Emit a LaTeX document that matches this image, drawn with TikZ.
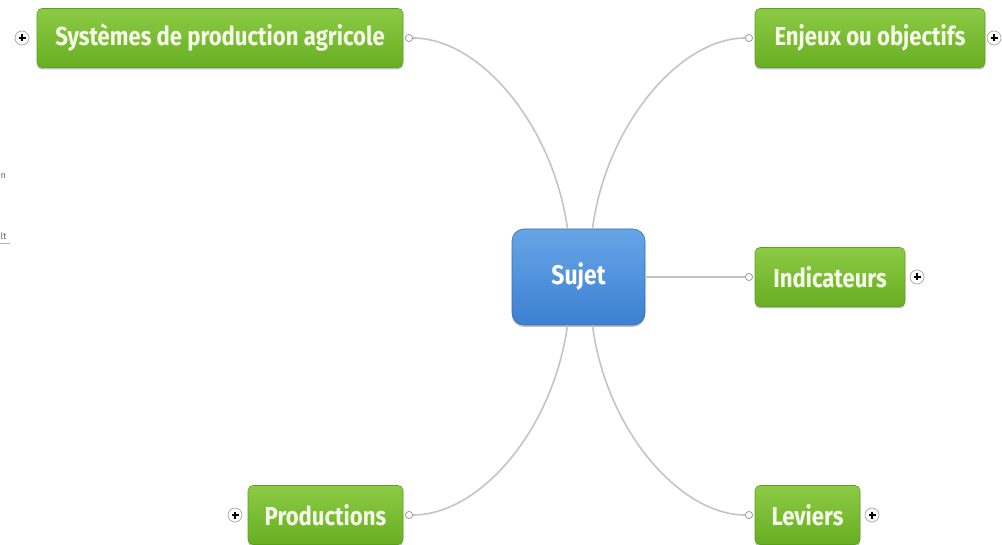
\documentclass[tikz,border=0pt]{standalone}
\usepackage{fontspec}
\setmainfont{Fira Sans}
\newfontfamily\boxfont[FakeStretch=0.85]{Fira Sans}
\usetikzlibrary{shadows,calc}
\definecolor{gtop}{HTML}{8CCB45}
\definecolor{gbot}{HTML}{68AE22}
\definecolor{gedge}{HTML}{5E9E22}
\definecolor{btop}{HTML}{66A6E6}
\definecolor{bbot}{HTML}{3D7FD2}
\definecolor{bedge}{HTML}{3A6DB0}
\definecolor{linkc}{HTML}{C4C4C4}
\definecolor{txtc}{HTML}{F6FCEA}
\begin{document}
\begin{tikzpicture}[x=1pt,y=-1pt,
  topic/.style={rounded corners=5pt, draw=gedge, line width=0.6pt, top color=gtop, bottom color=gbot,
    minimum height=59pt, inner xsep=2pt, text=txtc,
    font=\boxfont\bfseries\fontsize{26}{26}\selectfont,
    drop shadow={shadow xshift=0pt, shadow yshift=-2pt, opacity=0.25, fill=black}},
  central/.style={rounded corners=12pt, draw=bedge, line width=0.6pt, top color=btop, bottom color=bbot,
    minimum width=133pt, minimum height=96pt, text=white,
    font=\boxfont\bfseries\fontsize{27}{27}\selectfont,
    drop shadow={shadow xshift=0pt, shadow yshift=-2pt, opacity=0.25, fill=black}},
  link/.style={draw=linkc, line width=1.6pt},
  knob/.style={circle, draw=linkc!80!black, line width=0.7pt, fill=white, minimum size=7pt, inner sep=0pt},
  plusbtn/.style={circle, draw=gray!70, line width=0.7pt, fill=white, minimum size=14pt, inner sep=0pt,
    path picture={\draw[black, line width=1.2pt] ($(path picture bounding box.center)+(-3.5,0)$) -- ($(path picture bounding box.center)+(3.5,0)$)
      ($(path picture bounding box.center)+(0,-3.5)$) -- ($(path picture bounding box.center)+(0,3.5)$);}},
  frag/.style={font=\fontsize{9}{9}\selectfont, text=gray!80!black, inner sep=0pt}
]
\useasboundingbox (0,0) rectangle (1002,545);

% fragments at the left edge
\node[frag, anchor=west] (f1) at (0.5,176) {n};
\node[frag, anchor=west] (f2) at (0.5,236) {lt};
\coordinate (u1) at (0,243);
\coordinate (u2) at (10,243);
\draw[gray!60, line width=0.5pt] (u1) -- (u2);

% nodes
\node[central] (sujet) at (578.5,277) {Sujet};
\node[topic, minimum width=366pt] (sys) at (220,38) {Systèmes de production agricole};
\node[topic, minimum width=230pt] (enj) at (870,38) {Enjeux ou objectifs};
\node[topic, minimum width=150pt] (ind) at (830,277) {Indicateurs};
\node[topic, minimum width=155pt] (prod) at (325.5,515) {Productions};
\node[topic, minimum width=105pt] (lev) at (807.5,515) {Leviers};

% knobs
\node[knob] (k1) at (409,38) {};
\node[knob] (k2) at (749,38) {};
\node[knob] (k3) at (749,277) {};
\node[knob] (k4) at (409,515) {};
\node[knob] (k5) at (749,515) {};

% connectors
\draw[link] ($(sujet.north)+(-11,0)$) .. controls (553,125) and (480,38) .. (k1.east);
\draw[link] ($(sujet.north)+(14,0)$) .. controls (606,125) and (680,38) .. (k2.west);
\draw[link] (sujet.east) -- (k3.west);
\draw[link] ($(sujet.south)+(-11,0)$) .. controls (553,430) and (480,515) .. (k4.east);
\draw[link] ($(sujet.south)+(14,0)$) .. controls (606,430) and (680,515) .. (k5.west);
\node[knob] at (k1) {};
\node[knob] at (k2) {};
\node[knob] at (k3) {};
\node[knob] at (k4) {};
\node[knob] at (k5) {};

% expand buttons
\node[plusbtn] (p1) at (22,38) {};
\node[plusbtn] (p2) at (994,38) {};
\node[plusbtn] (p3) at (917,277) {};
\node[plusbtn] (p4) at (235,515) {};
\node[plusbtn] (p5) at (872,515) {};
\end{tikzpicture}
\end{document}
